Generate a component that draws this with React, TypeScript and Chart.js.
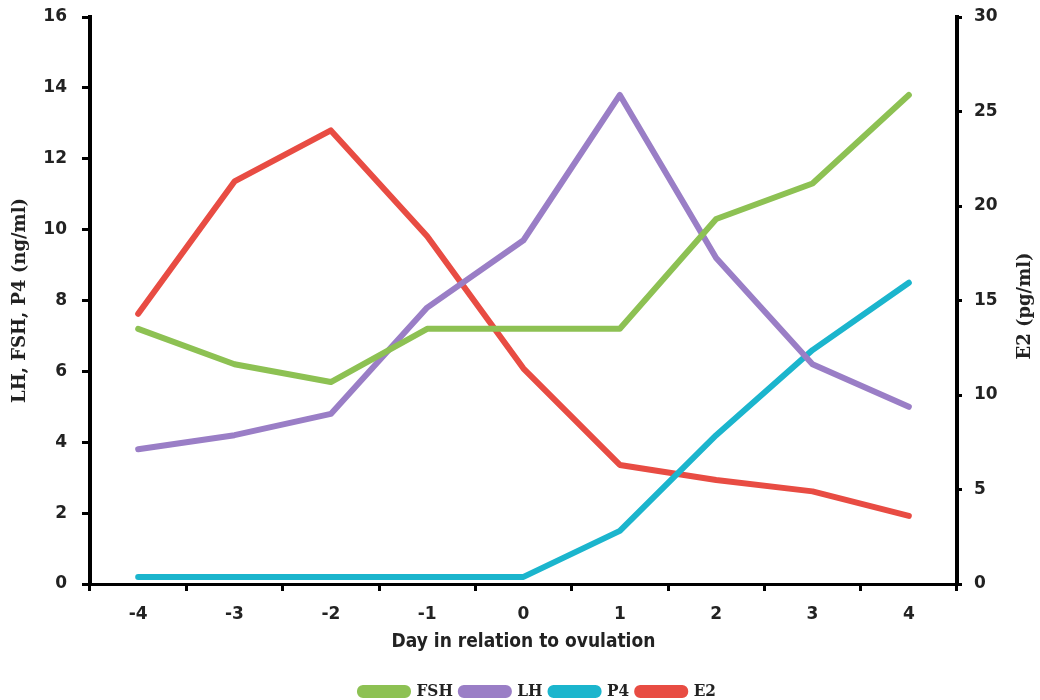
import React, { useEffect, useRef } from "react";
import { Chart, registerables } from "chart.js";

Chart.register(...registerables);

const days = ["-4", "-3", "-2", "-1", "0", "1", "2", "3", "4"];
const fsh = [7.2, 6.2, 5.7, 7.2, 7.2, 7.2, 10.3, 11.3, 13.8];
const lh = [3.8, 4.2, 4.8, 7.8, 9.7, 13.8, 9.2, 6.2, 5.0];
const p4 = [0.2, 0.2, 0.2, 0.2, 0.2, 1.5, 4.2, 6.6, 8.5];
const e2 = [14.3, 21.3, 24.0, 18.4, 11.4, 6.3, 5.5, 4.9, 3.6];

const leftTitle = "LH, FSH, P4 (ng/ml)";
const rightTitle = "E2 (pg/ml)";
const xTitle = "Day in relation to ovulation";

const GREEN = "#8dc153";
const PURPLE = "#9a7ec6";
const CYAN = "#1bb5cd";
const RED = "#e84c43";

export default function App() {
  const ref = useRef<HTMLCanvasElement | null>(null);

  useEffect(() => {
    document.body.style.margin = "0";
    const canvas = ref.current;
    if (!canvas) return;

    const rightTitlePlugin = {
      id: "rightTitle",
      afterLayout(chart: any) {
        const lg = chart.legend;
        if (lg) {
          lg.left += 18;
          lg.right += 18;
          lg.top += 10;
          lg.bottom += 10;
        }
      },
      afterDraw(chart: any) {
        const ctx = chart.ctx;
        ctx.save();
        ctx.translate(1025, 306);
        ctx.rotate(-Math.PI / 2);
        ctx.font = "bold 18px 'DejaVu Serif'";
        ctx.fillStyle = "#222";
        ctx.textAlign = "center";
        ctx.textBaseline = "middle";
        ctx.fillText(rightTitle, 0, 0);
        ctx.restore();
      },
    };

    const mk = (label: string, data: number[], color: string, axis: string) => ({
      label,
      data,
      borderColor: color,
      backgroundColor: color,
      borderWidth: 6,
      pointRadius: 0,
      pointHoverRadius: 0,
      tension: 0,
      yAxisID: axis,
      borderCapStyle: "round" as const,
      borderJoinStyle: "round" as const,
    });

    const tickFont = { family: "'DejaVu Sans'", weight: "bold" as const, size: 17 };

    const chart = new Chart(canvas, {
      type: "line",
      data: {
        labels: days,
        datasets: [
          mk("FSH", fsh, GREEN, "y"),
          mk("LH", lh, PURPLE, "y"),
          mk("P4", p4, CYAN, "y"),
          mk("E2", e2, RED, "y1"),
        ],
      },
      options: {
        responsive: false,
        animation: false,
        layout: { padding: { top: 17, left: 0, right: 0, bottom: 0 } },
        plugins: {
          tooltip: { enabled: false },
          legend: {
            position: "bottom",
            labels: {
              boxWidth: 48,
              boxHeight: 7,
              useBorderRadius: true,
              borderRadius: 3,
              color: "#222",
              padding: 8,
              font: { family: "'DejaVu Serif Condensed', 'DejaVu Serif'", weight: "bold", size: 17 },
            },
          },
        },
        scales: {
          x: {
            type: "category",
            offset: true,
            grid: {
              offset: true,
              drawOnChartArea: false,
              drawTicks: true,
              tickLength: 7,
              color: "#000",
              lineWidth: 3,
            },
            border: { display: true, color: "#000", width: 3 },
            ticks: {
              color: "#222",
              padding: 13,
              font: tickFont,
            },
            title: {
              display: true,
              text: xTitle,
              color: "#222",
              padding: { top: 0, bottom: 12 },
              font: { family: "'DejaVu Sans Condensed', 'DejaVu Sans'", weight: "bold", size: 19 },
            },
            afterFit(scale: any) {
              scale.height = 81;
            },
          },
          y: {
            position: "left",
            min: 0,
            max: 16,
            ticks: {
              stepSize: 2,
              color: "#222",
              padding: 15,
              font: tickFont,
            },
            grid: {
              drawOnChartArea: false,
              tickLength: 8,
              color: "#000",
              lineWidth: 3,
            },
            border: { display: true, color: "#000", width: 4 },
            title: {
              display: true,
              text: leftTitle,
              color: "#222",
              padding: { top: 10, bottom: 0 },
              font: { family: "'DejaVu Serif'", weight: "bold", size: 18 },
            },
            afterFit(scale: any) {
              scale.width = 90;
              scale.paddingTop = 0;
              scale.paddingBottom = 0;
            },
          },
          y1: {
            position: "right",
            min: 0,
            max: 30,
            ticks: {
              stepSize: 5,
              color: "#222",
              padding: 12,
              font: tickFont,
            },
            grid: {
              drawOnChartArea: false,
              tickLength: 5,
              color: "#000",
              lineWidth: 3,
            },
            border: { display: true, color: "#000", width: 4 },
            afterFit(scale: any) {
              scale.width = 83;
              scale.paddingTop = 0;
              scale.paddingBottom = 0;
            },
          },
        },
      },
      plugins: [rightTitlePlugin],
    });

    return () => chart.destroy();
  }, []);

  return <canvas ref={ref} width={1040} height={700} style={{ display: "block" }} />;
}
